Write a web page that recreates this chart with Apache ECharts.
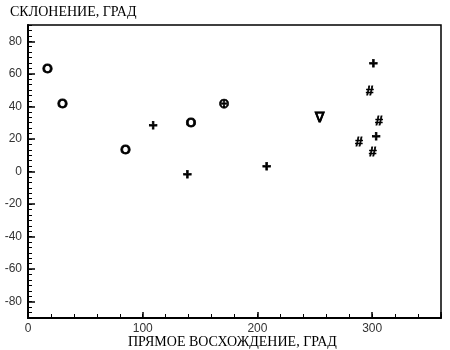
<!DOCTYPE html>
<html>
<head>
<meta charset="utf-8">
<script src="https://cdn.jsdelivr.net/npm/echarts@6/dist/echarts.min.js"></script>
<style>
html,body{margin:0;padding:0;background:#fff;}
#chart{width:450px;height:350px;}
</style>
</head>
<body>
<div id="chart"></div>
<script>
// Data: [right ascension (deg), declination (deg)]
var circlePoints = [[17, 63], [30, 41], [85, 13], [142, 29.5]];
var plusPoints = [[109, 28], [139, -2], [208, 3], [301, 66], [303.5, 21]];
var hashPoints = [[298, 49], [306, 31], [288.5, 18], [300.5, 12]];
var nablaPoints = [[254, 33]];
var circledPlusPoints = [[171, 41]];

var xTitle = 'ПРЯМОЕ ВОСХОЖДЕНИЕ, ГРАД';
var yTitle = 'СКЛОНЕНИЕ, ГРАД';
var xLabelValues = [0, 100, 200, 300];
var yLabelValues = [-80, -60, -40, -20, 0, 20, 40, 60, 80];

var chart = echarts.init(document.getElementById('chart'), null, {renderer: 'canvas'});

var G = {left: 28, right: 9, top: 25, bottom: 32};
var plotH = 350 - G.top - G.bottom;
var inset = plotH * 10 / 180;

function glyphSeries(name, data, glyph, size, extra) {
  var lbl = {
    show: true, position: 'inside', formatter: glyph,
    fontFamily: 'Liberation Sans, Arial, sans-serif', fontWeight: 'bold',
    fontSize: size, color: '#000', opacity: 1,
    textBorderColor: '#000', textBorderWidth: 0.8
  };
  if (extra) for (var k in extra) lbl[k] = extra[k];
  return {
    name: name, type: 'scatter', xAxisIndex: 0, yAxisIndex: 0,
    data: data, symbol: 'circle', symbolSize: 2,
    itemStyle: {color: 'rgba(0,0,0,0)'}, label: lbl, emphasis: {disabled: true},
    silent: true
  };
}

var axisFont = {fontFamily: 'Liberation Sans, Arial, sans-serif', fontSize: 12, color: '#333'};

var option = {
  animation: false,
  backgroundColor: '#fff',
  grid: [
    {left: G.left, right: G.right, top: G.top, bottom: G.bottom, show: true, borderColor: '#000', borderWidth: 1.5, outerBoundsMode: 'none', containLabel: false},
    {left: G.left, right: G.right, top: G.top + inset, bottom: G.bottom + inset, show: false, outerBoundsMode: 'none', containLabel: false}
  ],
  graphic: [
    {type: 'text', left: 10, top: 5, style: {text: yTitle, font: '14px "Liberation Serif", "Times New Roman", serif', fill: '#000'}},
    {type: 'text', left: 128, top: 335, style: {text: xTitle, font: '14px "Liberation Serif", "Times New Roman", serif', fill: '#000'}}
  ],
  xAxis: [
    {type: 'value', gridIndex: 0, min: 0, max: 360, interval: 20,
     axisLine: {show: true, onZero: false, lineStyle: {color: '#000', width: 2}},
     axisTick: {show: true, inside: true, length: 4, lineStyle: {color: '#000', width: 1}},
     splitLine: {show: false},
     axisLabel: Object.assign({margin: 5, formatter: function (v) { return xLabelValues.indexOf(v) >= 0 ? String(v) : ''; }}, axisFont)},
    {type: 'value', gridIndex: 0, min: 0, max: 360, interval: 100, position: 'bottom',
     axisLine: {show: false, onZero: false},
     axisTick: {show: true, inside: true, length: 6, lineStyle: {color: '#000', width: 1.5}},
     splitLine: {show: false}, axisLabel: {show: false}},
    {type: 'value', gridIndex: 1, min: 0, max: 360, show: false}
  ],
  yAxis: [
    {type: 'value', gridIndex: 0, min: -90, max: 90, interval: 10,
     axisLine: {show: true, onZero: false, lineStyle: {color: '#000', width: 2}},
     axisTick: {show: true, inside: true, length: 4, lineStyle: {color: '#000', width: 1}},
     minorTick: {show: true, splitNumber: 3, length: 4, lineStyle: {color: '#000', width: 1}},
     splitLine: {show: false}, axisLabel: {show: false}},
    {type: 'value', gridIndex: 1, min: -80, max: 80, interval: 20,
     axisLine: {show: false, onZero: false},
     axisTick: {show: true, inside: true, length: 7, lineStyle: {color: '#000', width: 1.5}},
     splitLine: {show: false},
     axisLabel: Object.assign({margin: 6, formatter: function (v) { return yLabelValues.indexOf(v) >= 0 ? String(v) : ''; }}, axisFont)}
  ],
  series: [
    glyphSeries('O', circlePoints, 'O', 13.5),
    glyphSeries('+', plusPoints, '+', 15),
    glyphSeries('#', hashPoints, '#', 13.5),
    glyphSeries('∇', nablaPoints, '∇', 14, {textBorderWidth: 0.3}),
    glyphSeries('⊕', circledPlusPoints, '⊕', 14, {fontFamily: 'DejaVu Sans, sans-serif', textBorderWidth: 0.6})
  ]
};
chart.setOption(option);
</script>
</body>
</html>
